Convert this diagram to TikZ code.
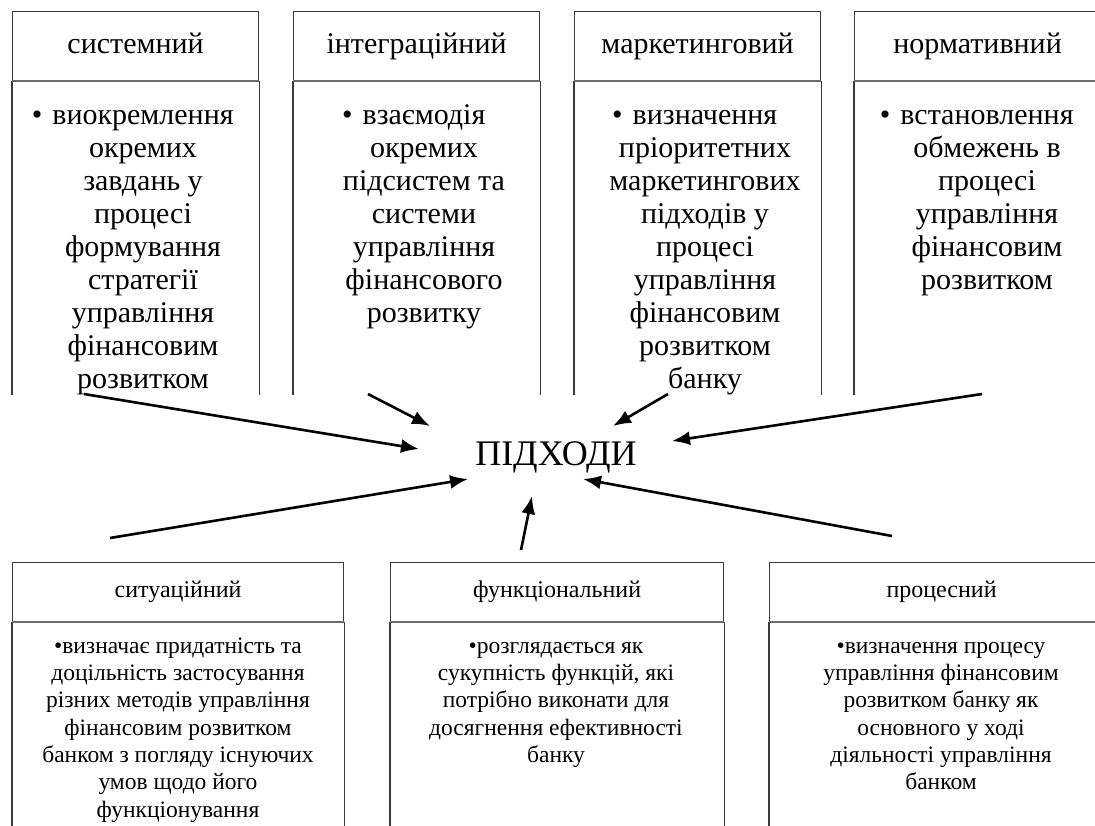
\documentclass[tikz,border=0pt]{standalone}
\usepackage{fontspec}
\setmainfont{Liberation Serif}
\usetikzlibrary{arrows.meta}
\definecolor{bordc}{HTML}{3A3A3A}
\definecolor{sepc}{HTML}{6A6A6A}
\begin{document}
\begin{tikzpicture}[x=1pt,y=-1pt,
  hdrtop/.style={draw=bordc, line width=1.2pt, minimum width=246pt, minimum height=69pt, inner sep=0pt, text height=21pt, text depth=7pt, anchor=north west, font=\fontsize{30}{33}\selectfont},
  hdrbot/.style={draw=bordc, line width=1.2pt, minimum height=59pt, inner sep=0pt, text height=17pt, text depth=6pt, anchor=north west, font=\fontsize{24}{28}\selectfont},
  bodytop/.style={align=center, inner sep=0pt, anchor=north, font=\fontsize{30}{33}\selectfont},
  bodybot/.style={align=center, inner sep=0pt, anchor=north, font=\fontsize{23.5}{27.3}\selectfont},
  side/.style={draw=bordc, line width=1.2pt},
  sep/.style={draw=sepc, line width=2pt},
  arr/.style={draw=black, line width=2.6pt, -{Latex[length=18pt,width=14pt]}},
  centre/.style={font=\fontsize{36}{40}\selectfont, inner sep=0pt, anchor=base}
]
\useasboundingbox (0,0) rectangle (1095,825);
\clip (0,0) rectangle (1095,825);
\fill[white] (0,0) rectangle (1095,825);

% ---------- top boxes ----------
\node[hdrtop] (h1) at (12,11) {системний};
\node[hdrtop] (h2) at (293,11) {інтеграційний};
\node[hdrtop] (h3) at (574,11) {маркетинговий};
\node[hdrtop] (h4) at (854,11) {нормативний};
\foreach \n in {h1,h2,h3,h4}{
  \draw[side] (\n.south west) -- ++(0,314);
  \draw[side] (\n.south east) -- ++(0,314);
  \draw[sep] (\n.south west) -- (\n.south east);
}
\node[bodytop] (b1) at (143,101.5) {\strut\llap{•\hspace{10pt}}виокремлення\\окремих\\завдань у\\процесі\\формування\\стратегії\\управління\\фінансовим\\розвитком};
\node[bodytop] (b2) at (424,101.5) {\strut\llap{•\hspace{10pt}}взаємодія\\окремих\\підсистем та\\системи\\управління\\фінансового\\розвитку};
\node[bodytop] (b3) at (705,101.5) {\strut\llap{•\hspace{10pt}}визначення\\пріоритетних\\маркетингових\\підходів у\\процесі\\управління\\фінансовим\\розвитком\\банку};
\node[bodytop] (b4) at (987,101.5) {\strut\llap{•\hspace{10pt}}встановлення\\обмежень в\\процесі\\управління\\фінансовим\\розвитком};

% ---------- bottom boxes ----------
\node[hdrbot, minimum width=331pt] (h5) at (12,562) {ситуаційний};
\node[hdrbot, minimum width=333pt] (h6) at (390,562) {функціональний};
\node[hdrbot, minimum width=344pt] (h7) at (769,562) {процесний};
\foreach \n in {h5,h6,h7}{
  \draw[side] (\n.south west) -- ++(0,220);
  \draw[side] (\n.south east) -- ++(0,220);
  \draw[sep] (\n.south west) -- (\n.south east);
}
\node[bodybot] (b5) at (178,634) {\strut•визначає придатність та\\доцільність застосування\\різних методів управління\\фінансовим розвитком\\банком з погляду існуючих\\умов щодо його\\функціонування};
\node[bodybot] (b6) at (556,634) {\strut•розглядається як\\сукупність функцій, які\\потрібно виконати для\\досягнення ефективності\\банку};
\node[bodybot] (b7) at (941,634) {\strut•визначення процесу\\управління фінансовим\\розвитком банку  як\\основного у ході\\діяльності управління\\банком};

% ---------- centre ----------
\node[centre] (c) at (556,465) {ПІДХОДИ};

\coordinate (s1) at (84,394);   \coordinate (t1) at (419,449);
\coordinate (s2) at (368,394);  \coordinate (t2) at (430,426);
\coordinate (s3) at (668,394);  \coordinate (t3) at (613,426);
\coordinate (s4) at (982,394);  \coordinate (t4) at (672,441);
\coordinate (s5) at (110,538);  \coordinate (t5) at (468,479);
\coordinate (s6) at (521,550);  \coordinate (t6) at (532,496);
\coordinate (s7) at (892,536);  \coordinate (t7) at (583,479);
\foreach \i in {1,...,7}{ \draw[arr] (s\i) -- (t\i); }
\end{tikzpicture}
\end{document}
